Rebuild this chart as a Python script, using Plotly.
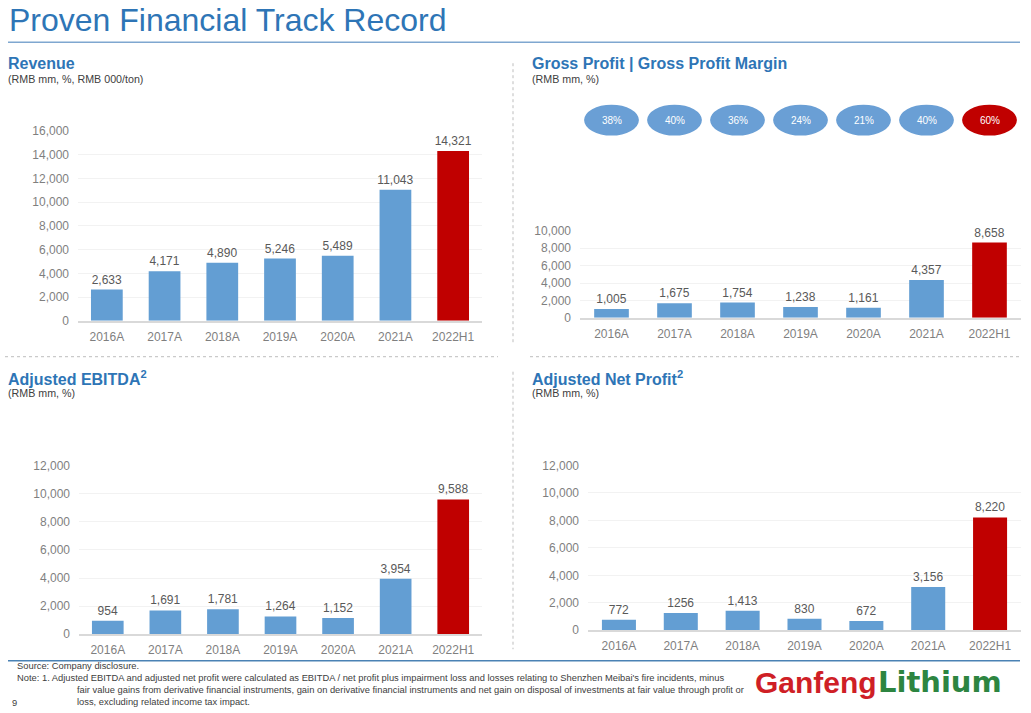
import plotly.graph_objects as go

# ---------------- data ----------------
years = ["2016A", "2017A", "2018A", "2019A", "2020A", "2021A", "2022H1"]
revenue = [2633, 4171, 4890, 5246, 5489, 11043, 14321]
gross_profit = [1005, 1675, 1754, 1238, 1161, 4357, 8658]
gross_margin = [38, 40, 36, 24, 21, 40, 60]
adj_ebitda = [954, 1691, 1781, 1264, 1152, 3954, 9588]
adj_net_profit = [772, 1256, 1413, 830, 672, 3156, 8220]
adj_net_profit_labels = ["772", "1256", "1,413", "830", "672", "3,156", "8,220"]

W, H = 1031, 713
FONT = "Liberation Sans, Arial, sans-serif"
BLUE = "#639ED3"
RED = "#C00000"
TITLE_BLUE = "#2E75B6"

# vertical calibration of the rendered page (measured)
Y_OFF, Y_SCALE = 6.7, 0.982


def px_x(p):
    return p / W


def px_y(p):
    return 1 - ((p - Y_OFF) / Y_SCALE) / H


def colors(n):
    return [BLUE] * (n - 1) + [RED]


fig = go.Figure()

panels = [
    # values, labels, xaxis, yaxis, xdomain(px), ydomain(px: zero, top), range max
    (revenue, [f"{v:,}" for v in revenue], "x", "y", (78, 482), (321, 131), 16000),
    (gross_profit, [f"{v:,}" for v in gross_profit], "x2", "y2", (580, 1021), (318, 231), 10000),
    (adj_ebitda, [f"{v:,}" for v in adj_ebitda], "x3", "y3", (79, 482), (635, 466), 12000),
    (adj_net_profit, adj_net_profit_labels, "x4", "y4", (588, 1021), (631, 466), 12000),
]

for vals, labels, xa, ya, xd, yd, ymax in panels:
    fig.add_trace(go.Bar(
        x=years, y=vals, text=labels, textposition="outside",
        constraintext="none",
        textfont=dict(size=12, color="#595959", family=FONT),
        marker=dict(color=colors(len(vals)), line=dict(width=0)),
        cliponaxis=False, xaxis=xa, yaxis=ya, showlegend=False,
        hoverinfo="x+y",
    ))
    sx = "" if xa == "x" else xa[1:]
    fig.layout["xaxis" + sx] = dict(
        domain=[px_x(xd[0]), px_x(xd[1])], anchor=ya,
        showline=True, linecolor="#D9D9D9", linewidth=1.5,
        showgrid=False, ticks="", ticklabelstandoff=4,
        tickfont=dict(size=12, color="#7F7F7F", family=FONT),
        fixedrange=True,
    )
    fig.layout["yaxis" + sx] = dict(
        domain=[px_y(yd[0]), px_y(yd[1])], anchor=xa,
        range=[0, ymax], dtick=2000, tickformat=",",
        showgrid=True, gridcolor="#F2F2F2", gridwidth=1,
        zeroline=False, showline=False, ticks="",
        ticklabelstandoff=8,
        tickfont=dict(size=12, color="#7F7F7F", family=FONT),
        fixedrange=True,
    )

shapes = []
annotations = []

# Gross margin ellipses
for i, m in enumerate(gross_margin):
    col = RED if i == len(gross_margin) - 1 else "#6A9FD5"
    shapes.append(dict(
        type="circle", xref="x2", yref="paper",
        x0=i - 0.435, x1=i + 0.435, y0=px_y(135.5), y1=px_y(104.5),
        fillcolor=col, line=dict(width=0), layer="above",
    ))
    annotations.append(dict(
        x=years[i], xref="x2", y=px_y(120), yref="paper",
        text=f"{m}%", showarrow=False,
        font=dict(size=10, color="white", family=FONT),
        xanchor="center", yanchor="middle",
    ))

# Header line
shapes.append(dict(type="line", xref="paper", yref="paper",
                   x0=px_x(8), x1=px_x(1020), y0=px_y(42), y1=px_y(42),
                   line=dict(color="#7FA7D0", width=1.5)))
# Footer line
shapes.append(dict(type="line", xref="paper", yref="paper",
                   x0=px_x(8), x1=px_x(1020), y0=px_y(661.5), y1=px_y(661.5),
                   line=dict(color="#4A82B4", width=1.5)))
# Dotted separators
dot = dict(color="#BDBDBD", width=1, dash="dot")
shapes += [
    dict(type="line", xref="paper", yref="paper", x0=px_x(513), x1=px_x(513),
         y0=px_y(63), y1=px_y(345), line=dot),
    dict(type="line", xref="paper", yref="paper", x0=px_x(513), x1=px_x(513),
         y0=px_y(372), y1=px_y(650), line=dot),
    dict(type="line", xref="paper", yref="paper", x0=px_x(5), x1=px_x(498),
         y0=px_y(357), y1=px_y(357), line=dot),
    dict(type="line", xref="paper", yref="paper", x0=px_x(530), x1=px_x(1020),
         y0=px_y(357), y1=px_y(357), line=dot),
]


def text(x, y, s, size, color, bold=False, xanchor="left", yanchor="middle", family=FONT):
    if bold:
        s = f"<b>{s}</b>"
    annotations.append(dict(
        x=px_x(x), y=px_y(y), xref="paper", yref="paper", text=s,
        showarrow=False, xanchor=xanchor, yanchor=yanchor, align="left",
        font=dict(size=size, color=color, family=family),
    ))


text(7, 20, "Proven Financial Track Record", 32, TITLE_BLUE)

text(6, 63, "Revenue", 16, TITLE_BLUE, bold=True)
text(6, 79, "(RMB mm, %, RMB 000/ton)", 10.7, "#404040")
text(530, 63, "Gross Profit | Gross Profit Margin", 16, TITLE_BLUE, bold=True)
text(530, 79, "(RMB mm, %)", 10.7, "#404040")
text(6, 378, "Adjusted EBITDA<sup>2</sup>", 16, TITLE_BLUE, bold=True)
text(6, 393, "(RMB mm, %)", 10.7, "#404040")
text(530, 378, "Adjusted Net Profit<sup>2</sup>", 16, TITLE_BLUE, bold=True)
text(530, 393, "(RMB mm, %)", 10.7, "#404040")

NOTE = "#404040"
text(15, 667, "Source: Company disclosure.", 9.35, NOTE)
text(15, 679, "Note: 1. Adjusted EBITDA and adjusted net profit were calculated as EBITDA / net profit plus "
     "impairment loss and losses relating to Shenzhen Meibai's fire incidents, minus", 9.35, NOTE)
text(75, 691, "fair value gains from derivative financial instruments, gain on derivative financial "
     "instruments and net gain on disposal of investments at fair value through profit or", 9.35, NOTE)
text(75, 703, "loss, excluding related income tax impact.", 9.35, NOTE)
text(10, 704, "9", 9.35, NOTE)

# Logo
text(753, 683, "Ganfeng", 30, "#CF1F26", bold=True)
text(876, 683, "Lithium", 29, "#2D8541", bold=True, family="DejaVu Sans, " + FONT)

fig.update_layout(
    width=W, height=H, margin=dict(l=0, r=0, t=0, b=0),
    paper_bgcolor="white", plot_bgcolor="white",
    font=dict(family=FONT),
    bargap=0.45, shapes=shapes, annotations=annotations,
    showlegend=False,
)

fig.write_html(
    "out.html",
    config={"displayModeBar": False},
    post_script="document.body.style.margin='0';document.body.style.overflow='hidden';",
)
